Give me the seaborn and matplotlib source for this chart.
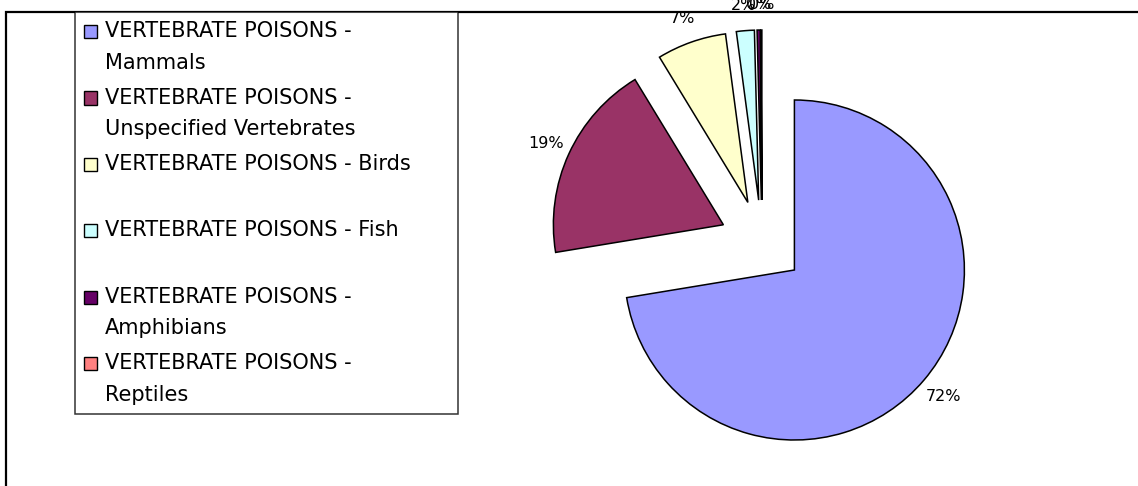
import matplotlib
matplotlib.use("Agg")
import matplotlib.pyplot as plt
from matplotlib.patches import Rectangle
from matplotlib.legend_handler import HandlerPatch
import seaborn as sns

# Share of vertebrate poison products by target group (%)
categories = [
    "VERTEBRATE POISONS -\nMammals",
    "VERTEBRATE POISONS -\nUnspecified Vertebrates",
    "VERTEBRATE POISONS - Birds\n ",
    "VERTEBRATE POISONS - Fish\n ",
    "VERTEBRATE POISONS -\nAmphibians",
    "VERTEBRATE POISONS -\nReptiles",
]
shares = [72.4, 18.9, 6.6, 1.7, 0.3, 0.1]
slice_colors = ["#9999FF", "#993366", "#FFFFCC", "#CCFFFF", "#660066", "#FF8080"]

sns.set_theme(style="white")
plt.rcParams["font.family"] = ["DejaVu Sans"]
plt.rcParams["text.color"] = "black"

W, H = 1138, 486
fig = plt.figure(figsize=(W / 100, H / 100), dpi=100)
fig.patch.set_facecolor("white")

# Outer chart border (top and left edges visible)
fig.add_artist(Rectangle((6 / W, -0.2), 2.0, (H - 12) / H + 0.2,
                         transform=fig.transFigure, fill=False,
                         edgecolor="black", linewidth=1.6))

# Pie axes: square, centred on the right half
span = 476
cx, cy = 762, H - 242.5
ax = fig.add_axes([(cx - span / 2) / W, (cy - span / 2) / H, span / W, span / H])
palette = sns.color_palette(slice_colors)

wedges, texts, autotexts = ax.pie(
    shares,
    colors=palette,
    explode=[0.25] * len(shares),
    startangle=90,
    counterclock=False,
    autopct=lambda p: f"{p:.0f}%",
    pctdistance=1.15,
    wedgeprops=dict(edgecolor="black", linewidth=1.1),
    textprops=dict(fontsize=11.5, color="black"),
)
for t in autotexts:
    t.set_clip_on(False)
ax.set_xlim(-1.4, 1.4)
ax.set_ylim(-1.4, 1.4)
ax.set_aspect("equal")
ax.axis("off")

LEGEND_FS = 15
LINESPACING = 1.71


def first_line_square(legend, orig_handle, xdescent, ydescent, width, height, fontsize):
    # square marker aligned with the first line of a two-line label
    shift = 0.45 * LINESPACING * fontsize
    return Rectangle((-xdescent, -ydescent + shift), width, height)


leg = fig.legend(
    wedges, categories,
    loc="upper left",
    bbox_to_anchor=(75 / W, 1 - 12 / H, 383 / W, 0.0),
    mode="expand",
    frameon=True,
    fancybox=False,
    shadow=False,
    fontsize=LEGEND_FS,
    handlelength=0.6,
    handleheight=0.6,
    handletextpad=0.4,
    labelspacing=0.72,
    borderpad=0.45,
    borderaxespad=0.0,
    handler_map={w: HandlerPatch(patch_func=first_line_square) for w in wedges},
)
leg.get_frame().set_edgecolor("black")
leg.get_frame().set_linewidth(1.1)
for t in leg.get_texts():
    t.set_linespacing(LINESPACING)
    t.set_color("black")
for h in leg.legend_handles:
    h.set_edgecolor("black")
    h.set_linewidth(1.0)

fig.savefig("out.png", dpi=100, facecolor="white")
